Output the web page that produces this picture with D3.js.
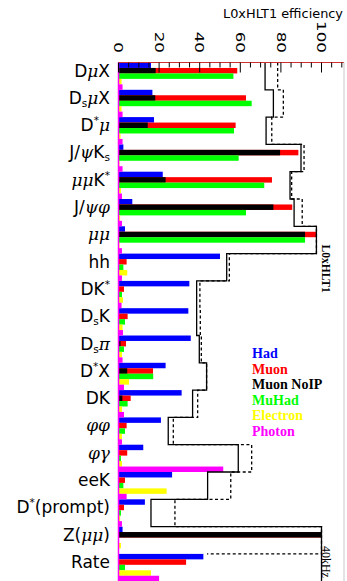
<!DOCTYPE html>
<html><head><meta charset="utf-8">
<script src="https://cdn.jsdelivr.net/npm/d3@7/dist/d3.min.js"></script>
<style>html,body{margin:0;padding:0;background:#fff}svg{display:block}</style>
</head><body><svg id="c" width="347" height="581"></svg>
<script>
// ---- data ----
const categories = ["DμX","D_sμX","D^*μ","J/ψK_s","μμK^*","J/ψφ","μμ","hh","DK^*","D_sK","D_sπ","D^*X","DK","φφ","φγ","eeK","D^*(prompt)","Z(μμ)","Rate"];
const had      = [16, 16.7, 17.5, 2.4, 21.8, 6.8, 3.2, 50, 34.9, 34.4, 35.6, 23.2, 31.1, 20.9, 12.2, 26.4, 13, 2, 41.8];
const muon     = [58.5, 62.8, 57.7, 88.6, 75.6, 85.6, 97.3, 4, 2.7, 4.5, 3.7, 17, 6, 4, 4.3, 3.2, 2.7, 100, 33.3];
const muonNoIP = [18.3, 18.1, 14.4, 79.6, 23.2, 76.3, 91.9, 0, 0, 0, 1, 4.3, 1.9, 0, 0, 0, 0, 100, 0];
const muHad    = [56.6, 65.6, 56.9, 59.2, 71.8, 62.8, 91.9, 2.4, 1.7, 3.2, 2.7, 17.1, 4.5, 3.2, 1.2, 2.4, 1.2, 0, 3.2];
const electron = [1.5, 1.5, 1, 0.5, 1.2, 0.8, 0.5, 4.3, 2.2, 2, 1.7, 5.2, 1.7, 1.7, 1.7, 23.7, 0.8, 1.2, 16];
const photon   = [2, 2, 2, 2, 1.7, 1.7, 1.7, 1.7, 1.5, 2.2, 2, 2.7, 2.7, 1.7, 51.6, 4, 1.7, 0, 20];
const totalSolid  = [72.2, 76.3, 72.7, 89.9, 84.5, 86.5, 97.5, 53.3, 38.5, 38.5, 39.8, 43.4, 36.5, 24.5, 59, 43.9, 16, 100, 100];
const totalDashed = [78.4, 81.2, 75.5, 91.4, 85.3, 90.5, 97.5, 54.6, 40.1, 40.3, 40.8, 43.4, 39, 27, 65.6, 55.3, 27.8, 100, 43.6];
const tickLabels = [0, 20, 40, 60, 80, 100];
const legendNames = ["Had", "Muon", "Muon NoIP", "MuHad", "Electron", "Photon"];
const titleText = "L0xHLT1 efficiency";
const sideLabel = "L0xHLT1";
const rateLabel = "40kHz";

// ---- layout ----
const svg = d3.select("#c");
const x = d3.scaleLinear().domain([0, 100]).range([118.5, 321.5]);
const y = d3.scaleBand().domain(categories).range([62.5, 581.2]).padding(0);
const row = d3.scaleBand().domain([0,1,2,3,4]).range([0, y.bandwidth()]).padding(0);
const colors = ["#0000ff", "#ff0000", "#000000", "#00ff00", "#ffff00", "#ff00ff"];
const series = [
  {vals: had, row: 0, color: colors[0]},
  {vals: muon, row: 1, color: colors[1]},
  {vals: muonNoIP, row: 1, color: colors[2]},
  {vals: muHad, row: 2, color: colors[3]},
  {vals: electron, row: 3, color: colors[4]},
  {vals: photon, row: 4, color: colors[5]}
];

svg.append("rect").attr("width", 347).attr("height", 581).attr("fill", "#fff");

// bars
const gb = svg.append("g");
series.forEach(s => {
  gb.selectAll(null).data(categories.map((c, i) => ({c, v: s.vals[i]}))).enter()
    .append("rect")
    .attr("x", x(0))
    .attr("y", d => y(d.c) + row(s.row))
    .attr("width", d => Math.max(0, x(d.v) - x(0)))
    .attr("height", row.bandwidth())
    .attr("fill", s.color);
});

// step outlines
function stepPts(vals, closeLast) {
  const pts = [];
  categories.forEach((c, i) => {
    const t = y(c), b = t + y.bandwidth();
    pts.push([x(vals[i]), t]);
    if (i < categories.length - 1 || closeLast) pts.push([x(vals[i]), b]);
  });
  return pts;
}
const line = d3.line();
svg.append("path").attr("d", line(stepPts(totalSolid, true)))
  .attr("fill", "none").attr("stroke", "#000").attr("stroke-width", 1.3);
svg.append("path").attr("d", line(stepPts(totalDashed, false)))
  .attr("fill", "none").attr("stroke", "#000").attr("stroke-width", 1.3)
  .attr("stroke-dasharray", "3,2.5");

// frame
const topY = y.range()[0];
svg.append("line").attr("x1", x(0)).attr("x2", 344).attr("y1", topY).attr("y2", topY)
  .attr("stroke", "#d03030").attr("stroke-width", 1);
svg.append("line").attr("x1", 344).attr("x2", 344).attr("y1", topY).attr("y2", 581)
  .attr("stroke", "#c8c8c8").attr("stroke-width", 1);
svg.append("line").attr("x1", x(0)).attr("x2", x(0)).attr("y1", topY).attr("y2", 581)
  .attr("stroke", "#ff00ff").attr("stroke-width", 1.5);

// ticks (pointing down into the plot)
const tickVals = d3.range(0, 111, 5);
svg.append("g").selectAll("line").data(tickVals).enter().append("line")
  .attr("x1", d => x(d)).attr("x2", d => x(d))
  .attr("y1", topY).attr("y2", d => topY + (d % 20 === 0 ? 10 : 5))
  .attr("stroke", "#000").attr("stroke-width", 1);

// tick labels (rotated)
svg.append("g").selectAll("text").data(tickLabels).enter().append("text")
  .attr("transform", d => `translate(${x(d)},53) rotate(90) scale(1.4,1)`)
  .attr("text-anchor", "end").attr("dy", "0.36em")
  .attr("font-family", "DejaVu Sans").attr("font-size", 12).attr("fill", "#000")
  .text(d => d);

// title
svg.append("text").attr("x", 343).attr("y", 17.5).attr("text-anchor", "end")
  .attr("font-family", "DejaVu Sans").attr("font-size", 12.5).attr("fill", "#000")
  .attr("textLength", 120).attr("lengthAdjust", "spacingAndGlyphs")
  .text(titleText);

// category labels with sub/superscripts
const greek = /[α-ωΑ-Ω]/;
function richLabel(textSel, s) {
  let i = 0, shift = 0;
  while (i < s.length) {
    let ch = s[i];
    if (ch === "_" || ch === "^") {
      const c = s[i + 1];
      const dy = ch === "_" ? 3 : -7;
      textSel.append("tspan").attr("dy", dy - shift).attr("font-size", "0.62em").text(c);
      shift = dy;
      i += 2;
      continue;
    }
    const t = textSel.append("tspan").attr("dy", -shift).text(ch);
    if (greek.test(ch)) t.attr("font-style", "italic").attr("font-family", "DejaVu Serif");
    shift = 0;
    i++;
  }
}
const gl = svg.append("g");
categories.forEach(c => {
  const t = gl.append("text").attr("x", 110).attr("y", y(c) + 14)
    .attr("text-anchor", "end").attr("font-family", "DejaVu Sans").attr("font-size", 17)
    .attr("fill", "#000");
  richLabel(t, c);
});

// legend
svg.append("g").selectAll("text").data(legendNames).enter().append("text")
  .attr("x", 252).attr("y", (d, i) => 358 + i * 15.6)
  .attr("font-family", "Liberation Serif").attr("font-weight", "bold").attr("font-size", 14)
  .attr("fill", (d, i) => colors[i]).text(d => d);

// rotated side labels
svg.append("text").attr("transform", `translate(322,${y("hh") - 9}) rotate(90)`)
  .attr("font-family", "Liberation Serif").attr("font-weight", "bold").attr("font-size", 11.5)
  .attr("fill", "#000").text(sideLabel);
svg.append("text").attr("transform", `translate(322,${y("Rate") - 8}) rotate(90)`)
  .attr("font-family", "Liberation Serif").attr("font-size", 12)
  .attr("fill", "#000").text(rateLabel);
</script>
</body></html>
